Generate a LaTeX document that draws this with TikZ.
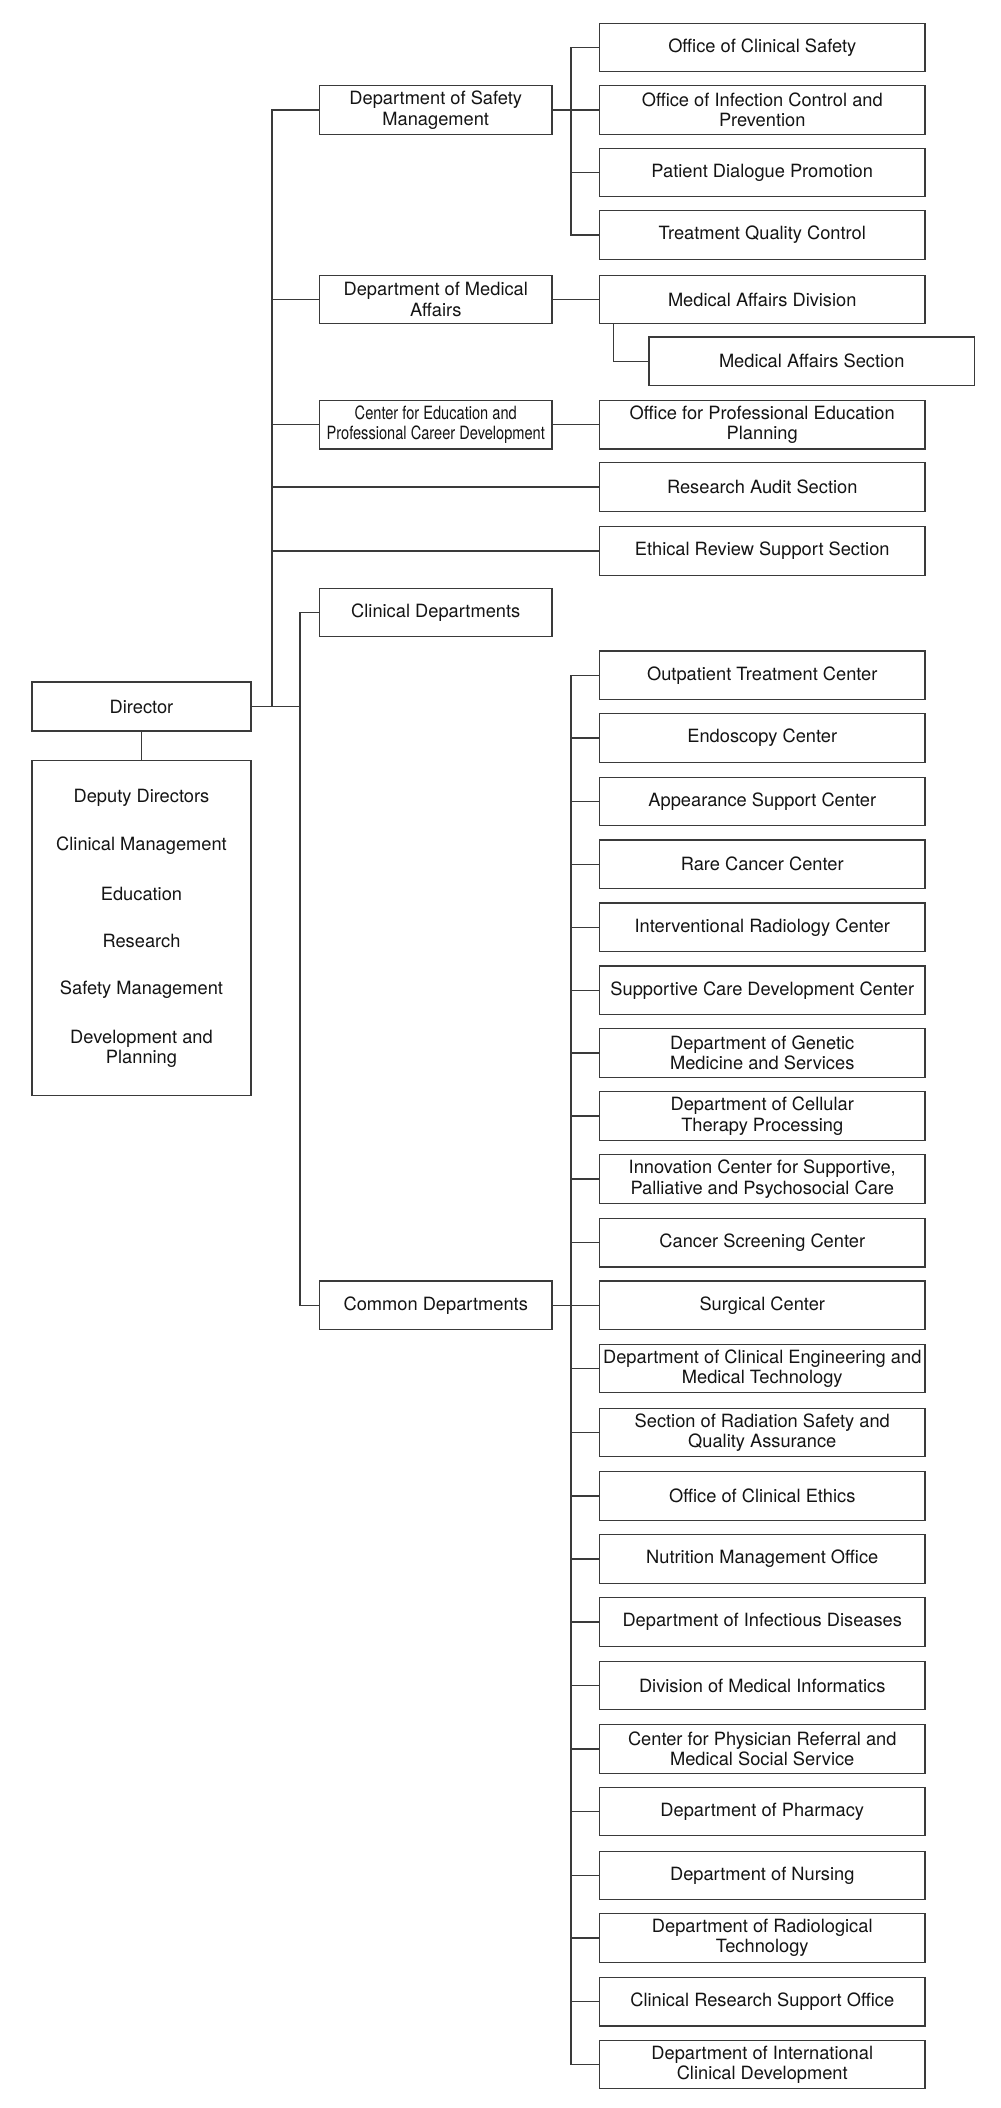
\documentclass[tikz,border=0pt]{standalone}
\usepackage{graphicx}
\usepackage{fontspec}
\setmainfont{TeX Gyre Heros}
\definecolor{linecol}{HTML}{3A3A3A}
\definecolor{txtcol}{HTML}{141414}
\tikzset{
  box/.style={draw=linecol, line width=0.9pt, fill=white, align=center, inner sep=0pt,
    text=txtcol, font=\fontsize{13.7}{15.3}\selectfont, minimum height=36.4pt},
  lvtwo/.style={box, minimum width=174.4pt},
  lvthree/.style={box, minimum width=244.1pt},
  plain/.style={align=center, inner sep=0pt, text=txtcol, font=\fontsize{13.7}{15.3}\selectfont},
  conn/.style={draw=linecol, line width=0.9pt}
}
\newcommand{\cnd}[1]{\scalebox{0.8}[1]{#1}}
\begin{document}
\begin{tikzpicture}[x=0.75pt, y=-0.75pt]
\useasboundingbox (0,0) rectangle (1000,2108);
% junction x positions
\coordinate (T1) at (272,0);
\coordinate (T2) at (300,0);
\coordinate (T3) at (571,0);
\coordinate (T4) at (613.5,0);
% left column
\node[box, minimum width=164.3pt, minimum height=36.8pt] (dir) at (141.5,706.5) {Director};
\node[box, minimum width=164.3pt, minimum height=251.3pt] (dep) at (141.5,927.8) {};
\node[plain] (dp1) at (141.5,797.9) {Deputy Directors};
\node[plain] (dp2) at (141.5,845.7) {Clinical Management};
\node[plain] (dp3) at (141.5,893.5) {Education};
\node[plain] (dp4) at (141.5,941.4) {Research};
\node[plain] (dp5) at (141.5,989.6) {Safety Management};
\node[plain] (dp6) at (141.5,1049) {Development and\\Planning};
% level 2
\node[lvtwo] (sm) at (435.75,110) {Department of Safety\\Management};
\node[lvtwo] (ma) at (435.75,299.6) {Department of Medical\\Affairs};
\node[lvtwo] (ce) at (435.75,424.7) {\cnd{Center for Education and}\\\cnd{Professional Career Development}};
\node[lvtwo] (cd) at (435.75,612.5) {Clinical Departments};
\node[lvtwo] (cm) at (435.75,1305.3) {Common Departments};
% level 3 upper
\node[lvthree] (ocs) at (762.25,47.6) {Office of Clinical Safety};
\node[lvthree] (oic) at (762.25,110) {Office of Infection Control and\\Prevention};
\node[lvthree] (pdp) at (762.25,172.5) {Patient Dialogue Promotion};
\node[lvthree] (tqc) at (762.25,235) {Treatment Quality Control};
\node[lvthree] (mad) at (762.25,299.6) {Medical Affairs Division};
\node[lvthree] (mas) at (811.75,361.3) {Medical Affairs Section};
\node[lvthree] (ope) at (762.25,424.7) {Office for Professional Education\\Planning};
\node[lvthree] (ras) at (762.25,487) {Research Audit Section};
\node[lvthree] (ers) at (762.25,551) {Ethical Review Support Section};
% level 3 common
\node[lvthree] (c0) at (762.25,675.3) {Outpatient Treatment Center};
\node[lvthree] (c1) at (762.25,738) {Endoscopy Center};
\node[lvthree] (c2) at (762.25,801.5) {Appearance Support Center};
\node[lvthree] (c3) at (762.25,864.3) {Rare Cancer Center};
\node[lvthree] (c4) at (762.25,927.3) {Interventional Radiology Center};
\node[lvthree] (c5) at (762.25,990.3) {Supportive Care Development Center};
\node[lvthree] (c6) at (762.25,1053) {Department of Genetic\\Medicine and Services};
\node[lvthree] (c7) at (762.25,1116) {Department of Cellular\\Therapy Processing};
\node[lvthree] (c8) at (762.25,1179) {Innovation Center for Supportive,\\Palliative and Psychosocial Care};
\node[lvthree] (c9) at (762.25,1242.8) {Cancer Screening Center};
\node[lvthree] (c10) at (762.25,1305.3) {Surgical Center};
\node[lvthree] (c11) at (762.25,1368.5) {Department of Clinical Engineering and\\Medical Technology};
\node[lvthree] (c12) at (762.25,1432.5) {Section of Radiation Safety and\\Quality Assurance};
\node[lvthree] (c13) at (762.25,1496) {Office of Clinical Ethics};
\node[lvthree] (c14) at (762.25,1559) {Nutrition Management Office};
\node[lvthree] (c15) at (762.25,1622) {Department of Infectious Diseases};
\node[lvthree] (c16) at (762.25,1685.5) {Division of Medical Informatics};
\node[lvthree] (c17) at (762.25,1749) {Center for Physician Referral and\\Medical Social Service};
\node[lvthree] (c18) at (762.25,1811.5) {Department of Pharmacy};
\node[lvthree] (c19) at (762.25,1875.5) {Department of Nursing};
\node[lvthree] (c20) at (762.25,1938) {Department of Radiological\\Technology};
\node[lvthree] (c21) at (762.25,2001.8) {Clinical Research Support Office};
\node[lvthree] (c22) at (762.25,2064.5) {Department of International\\Clinical Development};
% connectors: director
\draw[conn] (dir.south) -- (dep.north);
\draw[conn] (dir.east) -- (dir.east -| T2);
\draw[conn] (sm.west) -| (T1 |- dir.east);
\draw[conn] (ma.west) -- (ma.west -| T1);
\draw[conn] (ce.west) -- (ce.west -| T1);
\draw[conn] (ras.west) -- (ras.west -| T1);
\draw[conn] (ers.west) -- (ers.west -| T1);
\draw[conn] (cd.west) -| (T2 |- cm.west) -- (cm.west);
% safety group
\draw[conn] (sm.east) -- (oic.west);
\draw[conn] (ocs.west) -| (T3 |- tqc.west) -- (tqc.west);
\draw[conn] (pdp.west) -- (pdp.west -| T3);
% medical affairs
\draw[conn] (ma.east) -- (mad.west);
\draw[conn] (T4 |- mad.south) |- (mas.west);
% education
\draw[conn] (ce.east) -- (ope.west);
% common
\draw[conn] (cm.east) -- (c10.west);
\draw[conn] (c0.west) -| (T3 |- c22.west) -- (c22.west);
\foreach \n in {c1,c2,c3,c4,c5,c6,c7,c8,c9,c11,c12,c13,c14,c15,c16,c17,c18,c19,c20,c21}
  \draw[conn] (\n.west) -- (\n.west -| T3);
\end{tikzpicture}
\end{document}
